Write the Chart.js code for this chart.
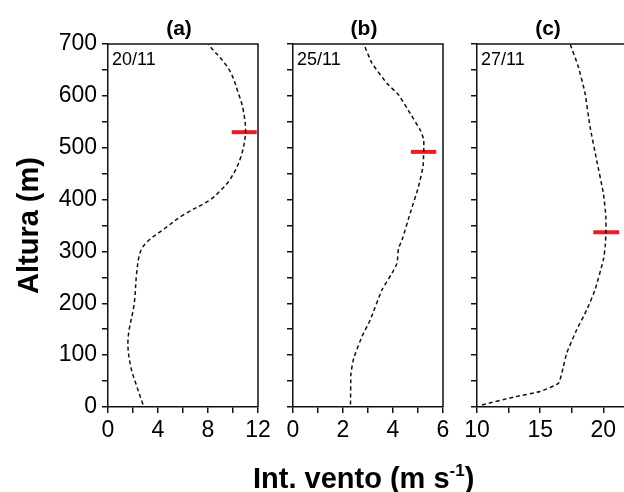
<!DOCTYPE html>
<html lang="pt">
<head>
    <meta charset="UTF-8">
    <title>Int. vento - perfis</title>
    <script src="https://cdn.jsdelivr.net/npm/chart.js"></script>
    <style>
        html, body { margin: 0; padding: 0; background: #fff; }
        body { width: 624px; height: 492px; overflow: hidden; position: relative; }
        canvas { position: absolute; left: 0; top: 0; }
        #xtitle {
            position: absolute; left: 253px; top: 462px;
            font: bold 29px "Liberation Sans", Arial, sans-serif; color: #000;
            white-space: nowrap;
        }
        #xtitle sup { font-size: 17px; vertical-align: 12px; line-height: 0; }
    </style>
</head>
<body>

<canvas id="panelA" width="624" height="492"></canvas>
<canvas id="panelB" width="624" height="492"></canvas>
<canvas id="panelC" width="640" height="492"></canvas>
<div id="xtitle">Int. vento (m s<sup>-1</sup>)</div>

<script>
    // panel labels
    const panelLetters = ['(a)', '(b)', '(c)'];
    const panelDates = ['20/11', '25/11', '27/11'];

    // wind speed profiles (altitude in m, speed in m/s)
    const altA = [5, 40, 80, 130, 200, 260, 300, 320, 340, 370, 400, 420, 440, 480, 530, 575, 600, 650, 700];
    const velA = [2.8, 2.3, 1.8, 1.6, 2.1, 2.3, 2.6, 3.2, 4.3, 6.0, 8.2, 9.1, 9.8, 10.6, 11.0, 10.8, 10.5, 9.7, 8.0];

    const altB = [5, 65, 94, 136, 168, 226, 258, 277, 306, 322, 374, 425, 464, 515, 534, 566, 602, 624, 663, 700];
    const velB = [2.3, 2.32, 2.43, 2.76, 3.09, 3.56, 3.96, 4.16, 4.22, 4.36, 4.69, 5.02, 5.2, 5.23, 5.09, 4.69, 4.22, 3.76, 3.16, 2.83];

    const altC = [4, 19, 30, 46, 78, 104, 149, 187, 226, 284, 310, 340, 367, 412, 476, 541, 605, 656, 700];
    const velC = [10.4, 12.9, 15.0, 16.45, 16.84, 17.1, 17.89, 18.68, 19.34, 20.0, 20.15, 20.2, 20.2, 20.0, 19.47, 18.94, 18.55, 18.02, 17.37];

    // red markers (altitude, speed range)
    const markAlt = [530, 492, 337];
    const markFrom = [9.9, 4.72, 19.2];
    const markTo = [11.9, 5.73, 21.25];

    // axis ranges
    const xMin = [0, 0, 10];
    const xMax = [12, 6, 21.87];
    const xStep = [2, 1, 2.5];
    const xLabelEvery = [4, 2, 5];

    const ink = '#111';
    const tickFont = { family: '"Liberation Sans", Arial, sans-serif', size: 23 };

    const panelDecor = {
        id: 'panelDecor',
        afterDraw(chart, args, opts) {
            const { ctx, chartArea: a } = chart;
            ctx.save();
            ctx.strokeStyle = ink;
            ctx.lineWidth = 1.5;
            ctx.beginPath();
            ctx.moveTo(a.left, a.top);
            ctx.lineTo(a.right, a.top);
            ctx.lineTo(a.right, a.bottom);
            ctx.stroke();
            ctx.fillStyle = '#000';
            ctx.font = 'bold 21px "Liberation Sans", Arial, sans-serif';
            ctx.textAlign = 'center';
            ctx.textBaseline = 'middle';
            ctx.fillText(opts.letter, (a.left + a.right) / 2 - 4, 29);
            ctx.font = '18px "Liberation Sans", Arial, sans-serif';
            ctx.textAlign = 'left';
            ctx.textBaseline = 'alphabetic';
            ctx.fillText(opts.date, a.left + 4, 65);
            ctx.restore();
        }
    };

    function makePanel(id, i, alt, vel, pad, yAxisWidth, showY, tension) {
        new Chart(document.getElementById(id), {
            type: 'line',
            data: {
                datasets: [
                    {
                        data: alt.map((h, k) => ({ x: vel[k], y: h })),
                        borderColor: ink,
                        borderWidth: 1.5,
                        borderDash: [4, 3],
                        pointRadius: 0,
                        tension: tension,
                        fill: false
                    },
                    {
                        data: [{ x: markFrom[i], y: markAlt[i] }, { x: markTo[i], y: markAlt[i] }],
                        borderColor: '#ec1c24',
                        borderWidth: 4,
                        pointRadius: 0,
                        fill: false
                    }
                ]
            },
            options: {
                responsive: false,
                animation: false,
                layout: { padding: pad },
                plugins: {
                    legend: { display: false },
                    tooltip: { enabled: false },
                    panelDecor: { letter: panelLetters[i], date: panelDates[i] }
                },
                scales: {
                    x: {
                        type: 'linear',
                        min: xMin[i],
                        max: xMax[i],
                        ticks: {
                            stepSize: xStep[i],
                            includeBounds: false,
                            autoSkip: false,
                            maxRotation: 0,
                            padding: 4,
                            color: '#000',
                            font: tickFont,
                            callback: v => (Math.abs(v % xLabelEvery[i]) < 1e-6 ? v : '')
                        },
                        grid: { drawOnChartArea: false, tickLength: 6, color: ink, lineWidth: 1.5 },
                        border: { color: ink, width: 1.5 },
                        afterFit(s) { s.height = 85; }
                    },
                    y: {
                        type: 'linear',
                        min: 0,
                        max: 700,
                        ticks: {
                            display: showY,
                            stepSize: 50,
                            autoSkip: false,
                            padding: 5,
                            color: '#000',
                            font: tickFont,
                            callback: v => (v % 100 === 0 ? v : '')
                        },
                        title: {
                            display: showY,
                            text: 'Altura (m)',
                            color: '#000',
                            font: { family: '"Liberation Sans", Arial, sans-serif', size: 29, weight: 'bold' },
                            padding: { top: 6, bottom: 0 }
                        },
                        grid: { drawOnChartArea: false, tickLength: 6, color: ink, lineWidth: 1.5 },
                        border: { color: ink, width: 1.5 },
                        afterFit(s) { s.width = yAxisWidth; }
                    }
                }
            },
            plugins: [panelDecor]
        });
    }

    makePanel('panelA', 0, altA, velA, { left: 7, right: 366, top: 44, bottom: 0 }, 101, true, 0.35);
    makePanel('panelB', 1, altB, velB, { left: 285, right: 181, top: 44, bottom: 0 }, 8, false, 0.15);
    makePanel('panelC', 2, altC, velC, { left: 469, right: 13, top: 44, bottom: 0 }, 8, false, 0.15);
</script>
</body>
</html>
